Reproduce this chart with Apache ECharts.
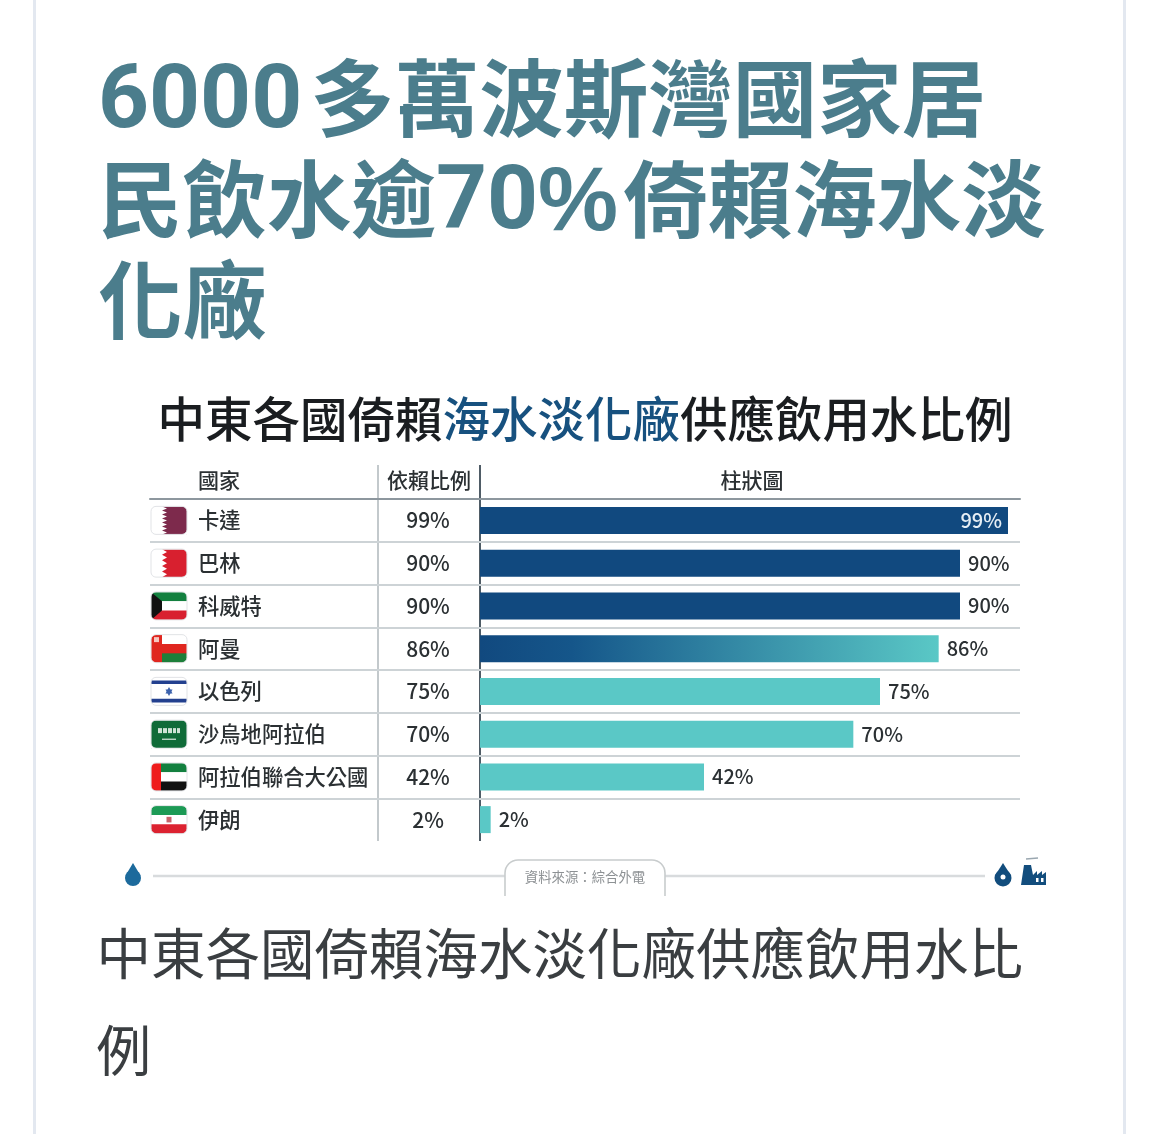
<!DOCTYPE html>
<html lang="zh-Hant">
<head>
<meta charset="utf-8">
<title>中東各國倚賴海水淡化廠供應飲用水比例</title>
<style>
  html, body { margin: 0; padding: 0; background: #fff; }
  #chart { width: 1156px; height: 1134px; }
</style>
<script src="https://cdn.jsdelivr.net/npm/echarts@6/dist/echarts.min.js"></script>
</head>
<body>
<div id="chart"></div>
<script>
// Desalination dependence by country
const countries = ['卡達', '巴林', '科威特', '阿曼', '以色列', '沙烏地阿拉伯', '阿拉伯聯合大公國', '伊朗'];
const shares = [99, 90, 90, 86, 75, 70, 42, 2];
const flagKinds = ['qatar', 'bahrain', 'kuwait', 'oman', 'israel', 'saudi', 'uae', 'iran'];
const columnHeads = ['國家', '依賴比例', '柱狀圖'];
const headlineLines = ['6000多萬波斯灣國家居', '民飲水逾70%倚賴海水淡', '化廠'];
const captionLines = ['中東各國倚賴海水淡化廠供應飲用水比', '例'];
const sourceNote = '資料來源\uFF1A綜合外電';

const CJK = '"Noto Sans CJK TC","Noto Sans",sans-serif';
const NAVY = '#11497f';
const TEAL = '#5ac8c6';
const INK = '#2b3033';
const RULE = '#cdd3d6';
const HEADLINE = '#4b7d8c';

function poly(points, fill) {
  return { type: 'polygon', shape: { points }, style: { fill } };
}
function box(x, y, width, height, fill) {
  return { type: 'rect', shape: { x, y, width, height }, style: { fill } };
}
// Serrated edge shared by the Qatar and Bahrain flags
function serrated(teeth, fill) {
  const w = 36, h = 28, a = 11, b = 16;
  const pts = [[w, 0], [a, 0]];
  for (let i = 0; i < teeth; i++) {
    pts.push([b, (i + 0.5) * h / teeth], [a, (i + 1) * h / teeth]);
  }
  pts.push([w, h]);
  return poly(pts, fill);
}
// Each flag is drawn in a 36 x 28 box
const flagShapes = {
  qatar: () => [box(0, 0, 36, 28, '#fff'), serrated(7, '#7d2a4c')],
  bahrain: () => [box(0, 0, 36, 28, '#fff'), serrated(5, '#d8202f')],
  kuwait: () => [
    box(0, 0, 36, 9.4, '#13803f'), box(0, 9.4, 36, 9.3, '#fff'), box(0, 18.7, 36, 9.3, '#d8202f'),
    poly([[0, 0], [11, 9.4], [11, 18.7], [0, 28]], '#111')
  ],
  oman: () => [
    box(0, 0, 36, 28, '#e0261f'), box(11, 0, 25, 9.4, '#fff'), box(11, 18.7, 25, 9.3, '#1d7f3a'),
    box(3, 2.5, 5, 5, '#f6c7c0')
  ],
  israel: () => [
    box(0, 0, 36, 28, '#fff'), box(0, 3, 36, 3.6, '#23408f'), box(0, 21.4, 36, 3.6, '#23408f'),
    poly([[18, 9.5], [21.5, 16], [14.5, 16]], '#3c62ad'), poly([[18, 18.5], [21.5, 12], [14.5, 12]], '#3c62ad')
  ],
  saudi: () => [
    box(0, 0, 36, 28, '#0f6b38'),
    box(7, 8, 4, 5, '#cfe3d6'), box(12, 8, 4, 5, '#cfe3d6'), box(17, 8, 4, 5, '#cfe3d6'),
    box(22, 8, 3, 5, '#cfe3d6'), box(26, 8, 3, 5, '#cfe3d6'),
    box(11, 18.5, 14, 1.2, '#dcebe1')
  ],
  uae: () => [
    box(0, 0, 36, 9.4, '#13803f'), box(0, 9.4, 36, 9.3, '#fff'), box(0, 18.7, 36, 9.3, '#111'),
    box(0, 0, 10, 28, '#ef1c1c')
  ],
  iran: () => [
    box(0, 0, 36, 9.4, '#1c9a55'), box(0, 9.4, 36, 9.3, '#fff'), box(0, 18.7, 36, 9.3, '#dc2230'),
    box(15.5, 11.2, 5, 5.6, '#c7636b')
  ]
};

function renderFlag(params, api) {
  const rowCentre = api.coord([0, api.value(1)])[1];
  const kind = flagKinds[params.dataIndex];
  const children = flagShapes[kind]();
  // Rounded white keyline trims the flag corners
  children.push({
    type: 'rect',
    shape: { x: -1, y: -1, width: 38, height: 30, r: 6 },
    style: { fill: 'none', stroke: '#fff', lineWidth: 2.5 }
  });
  children.push({
    type: 'rect',
    shape: { x: 0, y: 0, width: 36, height: 28, r: 5 },
    style: { fill: 'none', stroke: '#d9dcdf', lineWidth: 0.8 }
  });
  return { type: 'group', x: api.coord([1, 0])[0], y: rowCentre - 14, children };
}

const barColour = v => {
  if (v >= 90) return NAVY;
  if (v >= 80) {
    return new echarts.graphic.LinearGradient(0, 0, 1, 0, [
      { offset: 0, color: NAVY }, { offset: 0.2, color: '#15568a' }, { offset: 1, color: TEAL }
    ]);
  }
  return TEAL;
};

const graphicLine = (x1, y1, x2, y2, stroke, lineWidth) => ({
  type: 'line', shape: { x1, y1, x2, y2 }, style: { stroke, lineWidth }
});
const graphicText = (x, y, text, font, fill, align) => ({
  type: 'text', x, y,
  style: { text, font, fill, align: align || 'left', verticalAlign: 'middle' }
});
// Headline: digits and the percent sign run in Latin faces beside bold CJK
const headlineText = (y, line) => ({
  type: 'text', x: 98, y,
  style: {
    text: line
      .replace(/[0-9]+%/g, m => '{num|' + m.slice(0, -1) + '}{pct|%}')
      .replace(/^[0-9]+/, m => '{lead|' + m + '}'),
    fontFamily: CJK, fontSize: 84.5, fontWeight: 700, fill: HEADLINE,
    verticalAlign: 'middle',
    rich: {
      lead: { fontFamily: 'Roboto', fontSize: 89, fontWeight: 700, fill: HEADLINE, padding: [14, 8, 0, 0] },
      num: { fontFamily: 'Roboto', fontSize: 89, fontWeight: 700, fill: HEADLINE, padding: [14, 0, 0, 0] },
      pct: { fontFamily: '"Liberation Sans"', fontSize: 90, fontWeight: 700, fill: HEADLINE, padding: [14, 5, 0, 0] }
    }
  }
});
const drop = (cx, cy, r, fill) => [
  { type: 'circle', shape: { cx, cy: cy + 4, r }, style: { fill } },
  poly([[cx, cy - 11], [cx + r * 0.93, cy + 1.5], [cx - r * 0.93, cy + 1.5]], fill)
];

const option = {
  backgroundColor: '#fff',
  animation: false,
  title: {
    text: '中東各國倚賴{hl|海水淡化廠}供應飲用水比例',
    left: 580, top: 390, textAlign: 'center',
    textStyle: {
      fontFamily: CJK, fontSize: 47.5, fontWeight: 500, color: '#1a1d20',
      rich: { hl: { fontFamily: CJK, fontSize: 47.5, fontWeight: 500, color: '#17517f' } }
    }
  },
  grid: [
    { left: 150, top: 499, width: 330, height: 342 },
    { left: 480, top: 499, width: 540, height: 342 }
  ],
  xAxis: [
    {
      gridIndex: 0, type: 'value', min: 0, max: 330, position: 'top',
      axisLine: { show: true, onZero: false, lineStyle: { color: '#8d979e', width: 2 } },
      axisTick: { show: false }, axisLabel: { show: false }, splitLine: { show: false }
    },
    {
      gridIndex: 1, type: 'value', min: 0, max: 101.25, position: 'top',
      axisLine: { show: true, onZero: false, lineStyle: { color: '#8d979e', width: 2 } },
      axisTick: { show: false }, axisLabel: { show: false }, splitLine: { show: false }
    }
  ],
  yAxis: [
    {
      gridIndex: 0, type: 'category', inverse: true, data: countries, position: 'left',
      axisLine: { show: false }, axisTick: { show: false },
      axisLabel: {
        inside: true, margin: 48, align: 'left', interval: 0,
        fontFamily: CJK, fontSize: 21.3, color: INK, fontWeight: 500
      },
      splitLine: { show: true, showMaxLine: false, showMinLine: false, interval: 0, lineStyle: { color: RULE, width: 2 } }
    },
    {
      gridIndex: 0, type: 'category', inverse: true, data: shares.map(v => v + '%'), position: 'right',
      axisLine: { show: false }, axisTick: { show: false },
      axisLabel: {
        inside: true, margin: 52, align: 'center', interval: 0,
        fontFamily: CJK, fontSize: 21, color: INK, fontWeight: 500
      }
    },
    {
      gridIndex: 1, type: 'category', inverse: true, data: countries,
      axisLine: { show: false }, axisTick: { show: false }, axisLabel: { show: false },
      splitLine: { show: true, showMaxLine: false, showMinLine: false, interval: 0, lineStyle: { color: RULE, width: 2 } }
    }
  ],
  series: [
    {
      type: 'custom', xAxisIndex: 0, yAxisIndex: 0, silent: true, clip: false,
      renderItem: renderFlag,
      encode: { x: 0, y: 1 },
      data: countries.map(name => [1, name])
    },
    {
      type: 'bar', xAxisIndex: 1, yAxisIndex: 2, barWidth: 27, silent: true,
      data: shares.map(v => ({
        value: v,
        itemStyle: { color: barColour(v) },
        label: v > 95
          ? { position: 'insideRight', distance: 6, color: '#e6eef5' }
          : { position: 'right', distance: 8, color: INK }
      })),
      label: {
        show: true, formatter: '{c}%',
        fontFamily: CJK, fontSize: 20, fontWeight: 500
      }
    }
  ],
  graphic: { elements: [
    // Card edges
    { type: 'rect', shape: { x: 33, y: 0, width: 3, height: 1134 }, style: { fill: '#e3e8f0' } },
    { type: 'rect', shape: { x: 1123, y: 0, width: 3, height: 1134 }, style: { fill: '#e3e8f0' } },
    // Article headline
    ...headlineLines.map((line, i) => headlineText(97.5 + i * 101, line)),
    // Column dividers and heads
    graphicLine(378, 465, 378, 841, '#c3c9cc', 2),
    graphicLine(480, 465, 480, 841, '#4f5c66', 2),
    graphicText(219, 480, columnHeads[0], '500 21px ' + CJK, INK, 'center'),
    graphicText(429, 480, columnHeads[1], '500 21px ' + CJK, INK, 'center'),
    graphicText(752, 480, columnHeads[2], '500 21px ' + CJK, INK, 'center'),
    // Footer strip
    ...drop(133, 874, 8, '#1c6a9c'),
    graphicLine(153, 876, 505, 876, '#d8dbdd', 2.5),
    graphicLine(665, 876, 985, 876, '#d8dbdd', 2.5),
    {
      type: 'rect',
      shape: { x: 505, y: 860, width: 160, height: 40, r: [13, 13, 0, 0] },
      style: { fill: '#fff', stroke: '#c8cccd', lineWidth: 1.6 }
    },
    box(500, 896, 170, 8, '#fff'),
    graphicText(585, 877, sourceNote, '400 13.4px ' + CJK, '#8d9194', 'center'),
    ...drop(1003, 874, 8.5, '#124d7d'),
    { type: 'circle', shape: { cx: 1003, cy: 877, r: 2.5 }, style: { fill: '#fff' } },
    // Desalination plant icon
    poly([[1021, 885], [1024, 865], [1031, 865], [1033, 875], [1037, 871], [1037, 875], [1042, 871], [1042, 875], [1046, 872], [1046, 885]], '#124d7d'),
    box(1036, 878, 2.5, 4, '#fff'),
    box(1041, 878, 2.5, 4, '#fff'),
    graphicLine(1026, 859, 1038, 858, '#9aa7b0', 1.4),
    // Caption under the figure
    ...captionLines.map((line, i) =>
      graphicText(96.5, 953 + i * 97, line, '400 54.5px ' + CJK, '#3a3e41'))
  ] }
};

const chart = echarts.init(document.getElementById('chart'), null, { renderer: 'canvas' });
chart.setOption(option);
</script>
</body>
</html>
